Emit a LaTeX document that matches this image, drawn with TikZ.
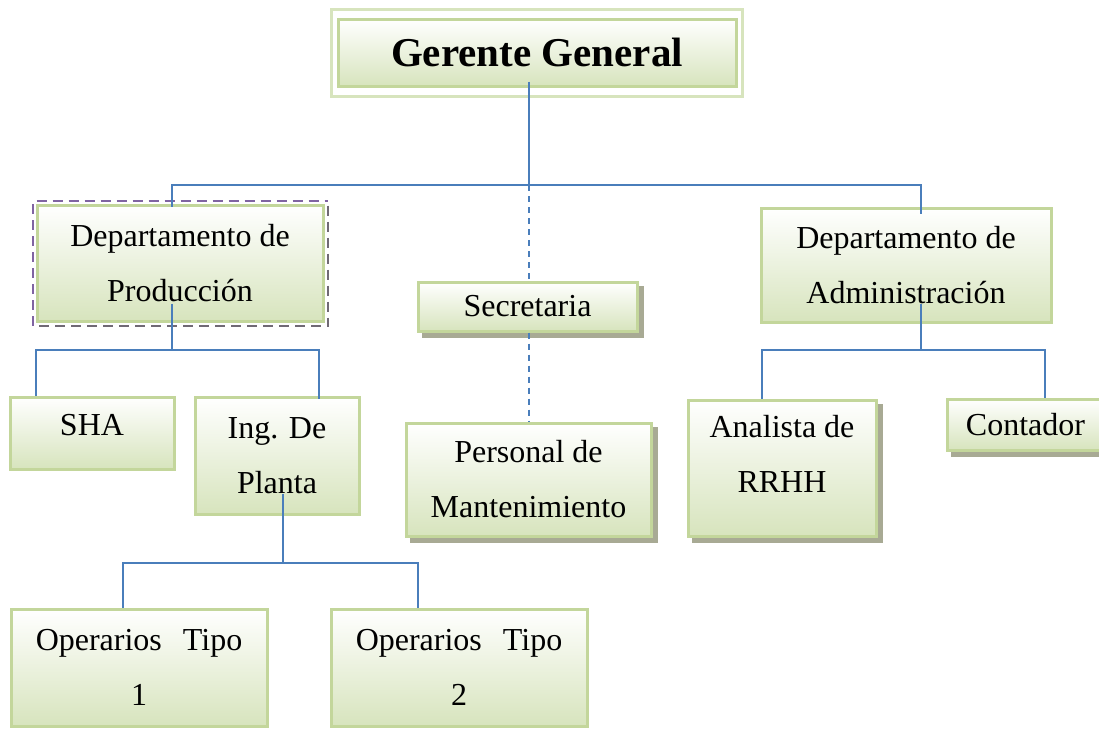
\documentclass[tikz,border=0pt]{standalone}
\usepackage{fontspec}
\setmainfont{Liberation Serif}
\usepackage{tikz}
\usetikzlibrary{calc,backgrounds}

\definecolor{boxline}{RGB}{195,214,155}
\definecolor{boxfill}{RGB}{215,228,189}
\definecolor{frameline}{RGB}{215,228,189}
\definecolor{linkblue}{RGB}{74,126,187}
\definecolor{dashpurple}{RGB}{128,100,162}
\definecolor{dashgray}{RGB}{112,106,116}
\definecolor{shadowc}{RGB}{168,170,148}

\tikzset{
  orgbox/.style={draw=boxline, line width=3pt, top color=white, bottom color=boxfill,
    align=center, inner sep=2pt, font=\fontsize{32}{55}\selectfont},
  conn/.style={draw=linkblue, line width=1.8pt},
  staff/.style={conn, dash pattern=on 6pt off 5pt},
  boxshadow/.style={fill=shadowc},
  outlinedash/.style={line width=2.6pt, dash pattern=on 10pt off 6pt},
}

\begin{document}
\begin{tikzpicture}[x=1pt,y=1pt,yscale=-1,xscale=1]
        \useasboundingbox (0,0) rectangle (1099,729);

        %Shape: Gerente General, outer frame and box
        \node [draw=frameline, line width=3pt, minimum width=411pt, minimum height=87pt] (ggframe) at (536.5,52.5) {};
        \node [orgbox, minimum width=398pt, minimum height=67pt, font=\fontsize{41}{49}\selectfont\bfseries] (gg) at (537,52.5) {Gerente General};

        %Shape: second level
        \node [orgbox, minimum width=286pt, minimum height=116pt] (prod) at (180,263) {Departamento de\\Producción};
        \node [orgbox, minimum width=219pt, minimum height=49pt] (sec) at (527.5,306.5) {Secretaria};
        \node [orgbox, minimum width=290pt, minimum height=114pt] (adm) at (906,265) {Departamento de\\Administración};

        %Shape: third level
        \node [orgbox, minimum width=164pt, minimum height=72pt, text depth=16pt] (sha) at (92,433) {SHA};
        \node [orgbox, minimum width=164pt, minimum height=117pt] (ing) at (277,455.5) {Ing. De\\Planta};
        \node [orgbox, minimum width=245pt, minimum height=113pt] (per) at (528.5,479.5) {Personal de\\Mantenimiento};
        \node [orgbox, minimum width=188pt, minimum height=136pt, text depth=28pt] (ana) at (782,468) {Analista de\\RRHH};
        \node [orgbox, minimum width=157pt, minimum height=51pt] (con) at (1025.5,424.5) {Contador};

        %Shape: fourth level
        \node [orgbox, minimum width=256pt, minimum height=117pt] (op1) at (139,667.5) {Operarios\hspace{21pt}Tipo\\1};
        \node [orgbox, minimum width=256pt, minimum height=117pt] (op2) at (459,667.5) {Operarios\hspace{21pt}Tipo\\2};

        %Shadows
        \begin{scope}[on background layer]
        \fill [boxshadow] ($(sec.north west)+(5,5)$) rectangle ($(sec.south east)+(5,5)$);
        \fill [boxshadow] ($(per.north west)+(5,5)$) rectangle ($(per.south east)+(5,5)$);
        \fill [boxshadow] ($(ana.north west)+(5,5)$) rectangle ($(ana.south east)+(5,5)$);
        \fill [boxshadow] ($(con.north west)+(5,5)$) rectangle ($(con.south east)+(5,5)$);
        \end{scope}
        %Dashed outline of Departamento de Produccion
        \draw [dashpurple, outlinedash] ($(prod.south west)+(-2.5,3)$) -- ($(prod.north west)+(-2.5,-2.5)$) -- ($(prod.north east)+(3,-2.5)$);
        \draw [dashgray, outlinedash] ($(prod.north east)+(3.5,2)$) -- ($(prod.south east)+(3.5,3.5)$) -- ($(prod.south west)+(2,3.5)$);

        %Connectors
        \coordinate (hub) at (529,185);
        \draw [conn] ($(gg.south)+(-8,-6)$) -- (hub);
        \draw [conn] ($(prod.north)+(-8,3)$) |- (hub) -| ($(adm.north)+(15,7)$);
        \draw [staff] (hub) -- (hub |- sec.north);
        \draw [staff] (hub |- sec.south) -- (hub |- per.north);

        \coordinate (pbar) at (172,350);
        \draw [conn] ($(prod.south)+(-8,-19)$) -- (pbar);
        \draw [conn] ($(sha.north)+(-56,0)$) |- (pbar) -| ($(ing.north)+(42,3)$);

        \coordinate (ibar) at (283,563);
        \draw [conn] ($(ing.south)+(6,-22)$) -- (ibar);
        \draw [conn] ($(op1.north)+(-16,0)$) |- (ibar) -| ($(op2.north)+(-41,0)$);

        \coordinate (abar) at (921,350);
        \draw [conn] ($(adm.south)+(15,-20)$) -- (abar);
        \draw [conn] ($(ana.north)+(-20,0)$) |- (abar) -| ($(con.north)+(19.5,0)$);

\end{tikzpicture}
\end{document}
